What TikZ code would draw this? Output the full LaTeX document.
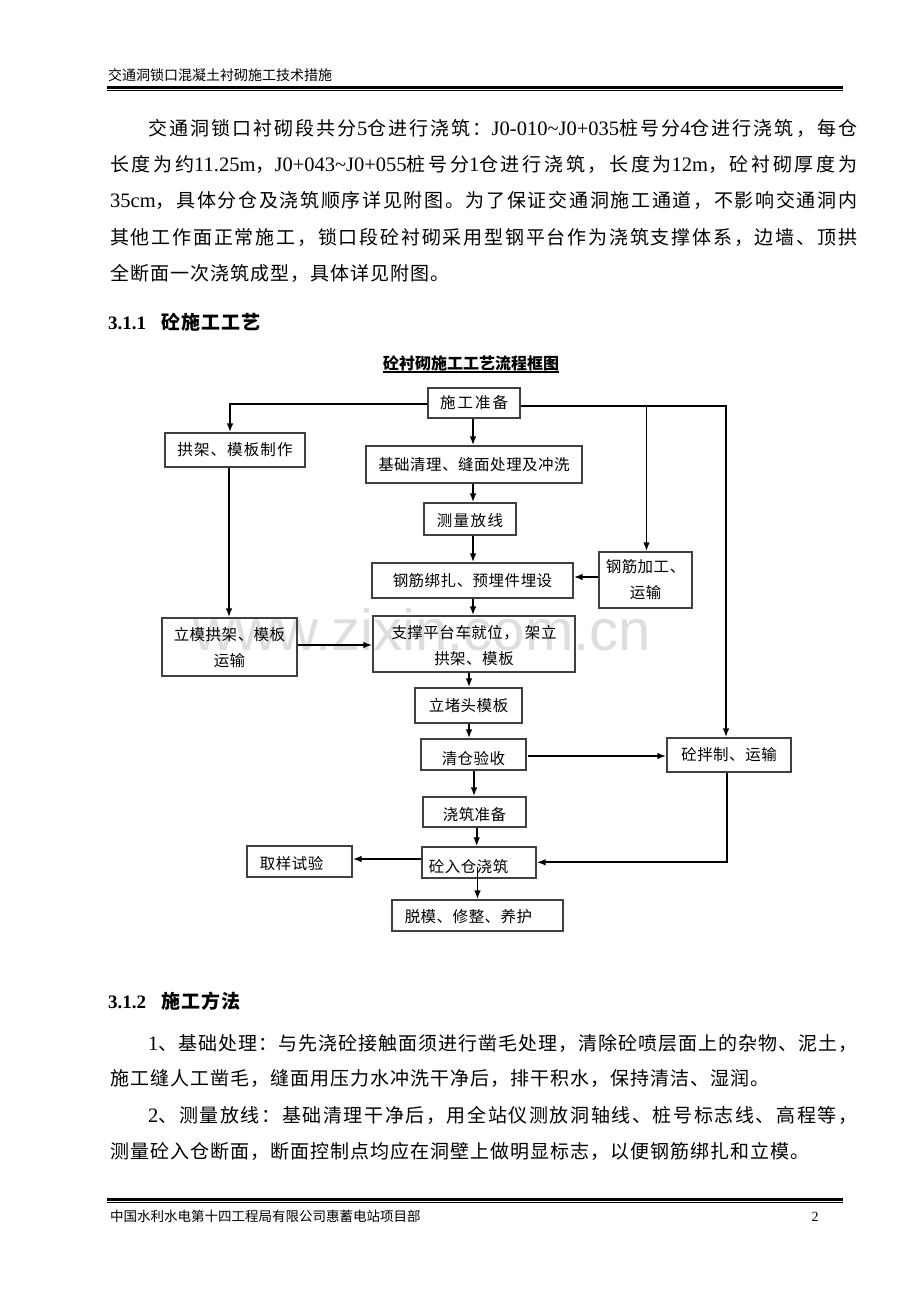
\documentclass[tikz,border=0pt]{standalone}
\usepackage{fontspec}
\setmainfont{Noto Sans CJK SC}
\newfontfamily\latf{Liberation Serif}
\newfontfamily\wmfont{Liberation Sans}
\usetikzlibrary{arrows.meta,calc}
\newdimen\cjkgap \cjkgap=0pt
\XeTeXinterchartokenstate=1
\newXeTeXintercharclass\CJKcls
\newcount\mycnt
\mycnt="3000 \loop\XeTeXcharclass\mycnt=\CJKcls\advance\mycnt1 \ifnum\mycnt<"3040 \repeat
\mycnt="4E00 \loop\XeTeXcharclass\mycnt=\CJKcls\advance\mycnt1 \ifnum\mycnt<"A000 \repeat
\mycnt="FF00 \loop\XeTeXcharclass\mycnt=\CJKcls\advance\mycnt1 \ifnum\mycnt<"FFF0 \repeat
\XeTeXinterchartoks\CJKcls\CJKcls={\hskip\cjkgap plus 4pt minus 1pt\relax}
\newcommand\lat{\latf\fontsize{20.5}{20.5}\selectfont}
\newcommand\bodyfont{\fontsize{19}{19}\selectfont\cjkgap=1pt\relax}
\newcommand\boxfont{\fontsize{15.5}{26}\selectfont\cjkgap=0.5pt\relax}
\newcommand\gapfont[1]{\fontsize{15.5}{26}\selectfont\cjkgap=#1\relax}
\newcommand\smallfont{\fontsize{14}{14}\selectfont\cjkgap=0pt\relax}
\newcommand\footfont{\fontsize{13.5}{14}\selectfont\cjkgap=0pt\relax}
\begin{document}
\begin{tikzpicture}[x=1pt,y=-1pt,
  body/.style={anchor=base west, inner sep=0, font=\bodyfont},
  head/.style={anchor=base west, inner sep=0, font=\bodyfont\bfseries},
  box/.style={draw=black!75, line width=1.1pt, inner sep=0, font=\boxfont, align=center},
  txt/.style={inner sep=0, font=\boxfont, align=center},
  arr/.style={line width=1.8pt, -{Latex[length=9pt,width=6.5pt]}},
  rule/.style={line width=#1}]
\useasboundingbox (0,0) rectangle (920,1302);
\fill[white] (0,0) rectangle (920,1302);

% header and footer
\node[anchor=base west, inner sep=0, font=\smallfont] (hdr) at (108,80.5) {交通洞锁口混凝土衬砌施工技术措施};
\draw[rule=2.2pt] (107,87.5) -- (843,87.5);
\draw[rule=0.9pt] (107,90.6) -- (843,90.6);
\draw[rule=2.2pt] (107,1199.5) -- (843,1199.5);
\draw[rule=0.9pt] (107,1202.6) -- (843,1202.6);
\node[anchor=base west, inner sep=0, font=\footfont] (ftr) at (110,1221) {中国水利水电第十四工程局有限公司惠蓄电站项目部};
\node[anchor=base, inner sep=0, font=\latf\fontsize{14}{14}\selectfont] (pg) at (815,1221) {2};

% paragraph
\node[body] (p1) at (148,135) {\hbox to 709pt{交通洞锁口衬砌段共分{\lat 5}仓进行浇筑：{\lat J0-010\textasciitilde J0+035}桩号分{\lat 4}仓进行浇筑，每仓}};
\node[body] (p2) at (110,171) {\hbox to 747pt{长度为约{\lat 11.25m}，{\lat J0+043\textasciitilde J0+055}桩号分{\lat 1}仓进行浇筑，长度为{\lat 12m}，砼衬砌厚度为}};
\node[body] (p3) at (110,207) {\hbox to 747pt{{\lat 35cm}，具体分仓及浇筑顺序详见附图。为了保证交通洞施工通道，不影响交通洞内}};
\node[body] (p4) at (110,244) {\hbox to 747pt{其他工作面正常施工，锁口段砼衬砌采用型钢平台作为浇筑支撑体系，边墙、顶拱}};
\node[body] (p5) at (110,280) {全断面一次浇筑成型，具体详见附图。};

\node[head] (h1) at (108,329) {{\latf\bfseries 3.1.1}\hspace{15pt}砼施工工艺};

% watermark
\node[anchor=base west, inner sep=0, font=\wmfont\fontsize{58}{58}\selectfont, text=black!13] (wmk) at (193,650) {www.zixin.com.cn};

% chart title
\node[inner sep=0, font=\fontsize{16}{16}\selectfont\bfseries] (title) at (471,363) {砼衬砌施工工艺流程框图};
\draw[line width=1.2pt] (title.west |- 0,372) -- (title.east |- 0,372);

% boxes
\node[box, minimum width=92, minimum height=30, font={\gapfont{2pt}}] (prep) at (474,403) {施工准备};
\node[box, minimum width=140, minimum height=34, font={\gapfont{1.1pt}}] (arch) at (235,450) {拱架、模板制作};
\node[box, minimum width=216, minimum height=37] (clean) at (474,464.5) {基础清理、缝面处理及冲洗};
\node[box, minimum width=92, minimum height=32] (survey) at (470,519) {};
\node[txt, font={\gapfont{1.5pt}}] (surveyT) at (470,521) {测量放线};
\node[box, minimum width=201, minimum height=35] (rebar) at (472.5,580.5) {钢筋绑扎、预埋件埋设};
\node[box, minimum width=93, minimum height=56] (rebarproc) at (645.5,580) {钢筋加工、\\运输};
\node[box, minimum width=135, minimum height=58] (formtrans) at (229.5,647) {};
\node[txt] (formtransT) at (229.5,648) {立模拱架、模板\\运输};
\node[box, minimum width=202, minimum height=56] (platform) at (474,644) {};
\node[txt] (platformT) at (474,646) {支撑平台车就位，\hspace{6pt}架立\\拱架、模板};
\node[box, minimum width=107, minimum height=35] (endform) at (468.5,705.5) {立堵头模板};
\node[box, minimum width=105, minimum height=31] (inspect) at (473.5,754.5) {};
\node[txt] (inspectT) at (473.5,759) {清仓验收};
\node[box, minimum width=124, minimum height=34] (mix) at (729,755) {砼拌制、运输};
\node[box, minimum width=103, minimum height=30] (pourprep) at (474.5,812) {};
\node[txt] (pourprepT) at (474.5,815) {浇筑准备};
\node[box, minimum width=114, minimum height=31] (pour) at (479,862.5) {};
\node[txt] (pourT) at (468.7,866.5) {砼入仓浇筑};
\node[box, minimum width=105, minimum height=31] (sample) at (299.5,861.5) {};
\node[txt] (sampleT) at (291.7,864) {取样试验};
\node[box, minimum width=171, minimum height=31] (cure) at (477.5,915.5) {};
\node[txt] (cureT) at (468.5,917) {脱模、修整、养护};

% connectors
\coordinate (L1) at (230,404);
\coordinate (R1) at (726,406);
\coordinate (br) at (646.5,406);
\coordinate (pourmid) at (477.5,867);
\draw[arr] (prep.west |- L1) -- (L1) -- (L1 |- arch.north);
\draw[arr] (229,0 |- arch.south) -- (229,0 |- formtrans.north);
\draw[arr] (473,0 |- prep.south) -- (473,0 |- clean.north);
\draw[arr] (473,0 |- clean.south) -- (473,0 |- survey.north);
\draw[arr] (473,0 |- survey.south) -- (473,0 |- rebar.north);
\draw[arr] (473,0 |- rebar.south) -- (473,0 |- platform.north);
\draw[arr] (469,0 |- platform.south) -- (469,0 |- endform.north);
\draw[arr] (469,0 |- endform.south) -- (469,0 |- inspect.north);
\draw[arr] (474,0 |- inspect.south) -- (474,0 |- pourprep.north);
\draw[arr] (476.7,0 |- pourprep.south) -- (476.7,0 |- pour.north);
\draw[arr] (pourmid) -- (pourmid |- cure.north);
\draw[arr] (prep.east |- R1) -- (R1) -- (R1 |- mix.north);
\draw[arr] (br) -- (br |- rebarproc.north);
\draw[arr] (rebarproc.west |- 0,577) -- (rebar.east |- 0,577);
\draw[arr] (formtrans.east |- 0,645) -- (platform.west |- 0,645);
\draw[arr] ([xshift=1.5pt]inspect.east |- 0,756) -- (mix.west |- 0,756);
\draw[arr] (727,0 |- mix.south) |- (pour.east |- 0,862.3);
\draw[arr] (pour.west |- 0,859) -- (sample.east |- 0,859);

% section 3.1.2
\node[head] (h2) at (108,1008) {{\latf\bfseries 3.1.2}\hspace{15pt}施工方法};
\node[body] (q1) at (148,1050) {\hbox to 709pt{{\lat 1}、基础处理：与先浇砼接触面须进行凿毛处理，清除砼喷层面上的杂物、泥土，}};
\node[body] (q2) at (110,1085) {施工缝人工凿毛，缝面用压力水冲洗干净后，排干积水，保持清洁、湿润。};
\node[body] (q3) at (148,1122) {\hbox to 709pt{{\lat 2}、测量放线：基础清理干净后，用全站仪测放洞轴线、桩号标志线、高程等，}};
\node[body] (q4) at (110,1158.5) {测量砼入仓断面，断面控制点均应在洞壁上做明显标志，以便钢筋绑扎和立模。};
\end{tikzpicture}
\end{document}
